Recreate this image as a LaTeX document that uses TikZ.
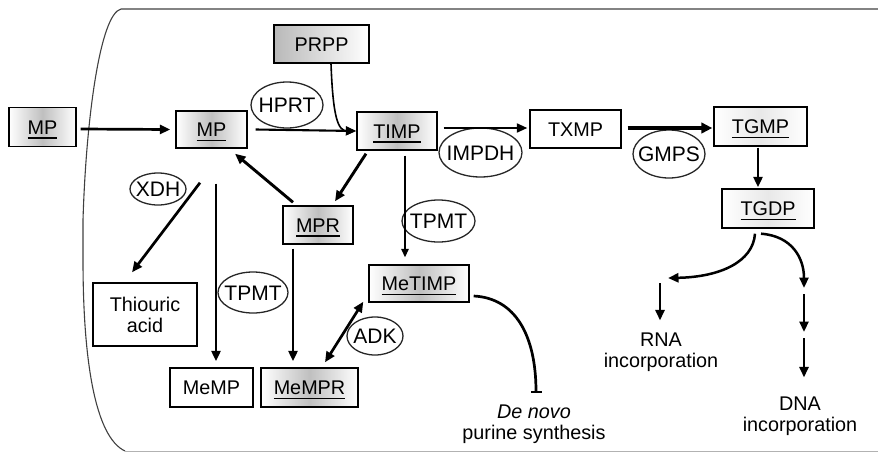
\documentclass[tikz,border=0pt]{standalone}
\usepackage{fontspec}
\setmainfont{Liberation Sans}
\usetikzlibrary{arrows.meta,calc}
\newcommand{\ulx}[1]{\setbox0\hbox{#1}\rlap{\rule[-4.6pt]{\wd0}{1.3pt}}\box0}
\begin{document}
\begin{tikzpicture}[x=1pt,y=-1pt,
  font=\fontsize{19.8}{21}\selectfont, text=black,
  bx/.style={draw=black, line width=1.4pt, inner sep=0pt, text height=14.2pt, text depth=0pt},
  bxt/.style={draw=black, line width=1.4pt, inner sep=0pt, align=center},
  shd/.style={bx, left color=white, right color=white, middle color=gray!50},
  shp/.style={bx, left color=gray!55, right color=white},
  shl/.style={bx, left color=white, right color=white, middle color=gray!18},
  enz/.style={inner sep=0pt, font=\fontsize{21}{22}\selectfont, text height=15pt, text depth=0pt},
  ell/.style={draw=black!85, line width=1.3pt},
  lbl/.style={align=center, inner sep=0pt},
  arr/.style={line width=#1, -{Triangle[length=10.5pt,width=9pt]}},
  arr/.default=2.5pt,
  arrs/.style={line width=#1, -{Triangle[length=8.5pt,width=7.5pt]}},
  arrs/.default=1.4pt,
  arrb/.style={line width=#1, -{Triangle[length=11pt,width=10.5pt]}},
  arrb/.default=4pt
]
\useasboundingbox (0,0) rectangle (878,453);

% cell outline
\draw[line width=1.1pt, black!75] (878,9) -- (121,9)
  .. controls (100,14) and (86,120) .. (83,220) -- (83,260)
  .. controls (83,360) and (95,437) .. (125,451);
\draw[line width=1pt, black!30] (125,451.5) -- (878,451.5);

% boxes
\node[shd, minimum width=67pt, minimum height=39pt] (mp0) at (42.5,127) {\ulx{MP}};
\node[shd, minimum width=71pt, minimum height=37pt] (mp1) at (211.5,129.5) {\ulx{MP}};
\node[shp, minimum width=95pt, minimum height=38pt] (prpp) at (321.5,44) {PRPP};
\node[shd, minimum width=80pt, minimum height=38pt] (timp) at (397,131) {\ulx{TIMP}};
\node[bx, fill=white, minimum width=91pt, minimum height=38pt] (txmp) at (575.5,129) {TXMP};
\node[shl, minimum width=93pt, minimum height=39pt] (tgmp) at (760.5,126.5) {\ulx{TGMP}};
\node[shl, minimum width=92pt, minimum height=39pt] (tgdp) at (768,208.5) {\ulx{TGDP}};
\node[shd, minimum width=70pt, minimum height=38pt] (mpr) at (318,225) {\ulx{MPR}};
\node[shd, minimum width=100pt, minimum height=37pt] (metimp) at (419,283.5) {\ulx{MeTIMP}};
\node[bxt, minimum width=104pt, minimum height=63pt] (thio) at (145,314.5) {Thiouric\\acid};
\node[bx, fill=white, minimum width=83pt, minimum height=39pt] (memp) at (211.5,387.5) {MeMP};
\node[shd, minimum width=97pt, minimum height=39pt] (mempr) at (309.5,387.5) {\ulx{MeMPR}};

% enzymes
\node[enz] (hprt) at (287,105) {HPRT};
\draw[ell] (hprt.center) ellipse [x radius=36, y radius=23];
\node[enz] (impdh) at (480.5,152.5) {IMPDH};
\draw[ell] (impdh.center) ellipse [x radius=41.5, y radius=24.5];
\node[enz] (gmps) at (669,154) {GMPS};
\draw[ell] (gmps.center) ellipse [x radius=36, y radius=24];
\node[enz] (xdh) at (158,189) {XDH};
\draw[ell] (xdh.center) ellipse [x radius=28, y radius=16];
\node[enz] (tpmta) at (253,292.5) {TPMT};
\draw[ell] (tpmta.center) ellipse [x radius=35, y radius=20.5];
\node[enz] (tpmtb) at (438.5,221) {TPMT};
\draw[ell] (tpmtb.center) ellipse [x radius=36.5, y radius=21];
\node[enz] (adk) at (375,336) {ADK};
\draw[ell] (adk.center) ellipse [x radius=28, y radius=19];

% labels
\node[lbl] (rna) at (661,352) {RNA\\incorporation};
\node[lbl] (dna) at (800,416) {DNA\\incorporation};
\node[lbl] (denovo) at (534,424) {\textit{De novo}\\purine synthesis};

% free coordinates
\coordinate (rnatip) at (668,278);
\coordinate (rnas) at (660,283);
\coordinate (dnaa) at (804,288);
\coordinate (dnab) at (804,294);
\coordinate (dnac) at (804,332);
\coordinate (dnad) at (804,338);

% connectors
\draw[arr=2.7pt] ($(mp0.east)+(4,2)$) -- ($(mp1.west)+(-5,0)$);
\draw[arr=2.1pt] ($(mp1.east)+(8,0)$) -- (timp.west);
\draw[arrs=1.6pt] ($(prpp.south)+(9.5,0)$) .. controls (333,118) and (338,131) .. ($(timp.west)+(-1,0)$);
\draw[arr=2.1pt] ($(timp.east)+(6,-3)$) -- ($(txmp.west)+(-2,-1)$);
\draw[arrb=4.2pt] ($(txmp.east)+(6,-1)$) -- ($(tgmp.west)+(-1,1.5)$);
\draw[arr=2.7pt] ($(tgmp.south)+(-2.5,1)$) -- ($(tgdp.north)+(-10,-1)$);
\draw[arr=2.5pt] ($(tgdp.south)+(-13,5)$) .. controls (753,262) and (720,277) .. (rnatip);
\draw[arr=2.5pt] (rnas) -- ($(rna.north)+(-1,-12)$);
\draw[arr=2.5pt] ($(tgdp.south)+(-7,5)$) .. controls (792,236) and (804,258) .. (dnaa);
\draw[arr=2.5pt] (dnab) -- (dnac);
\draw[arr=2.5pt] (dnad) -- ($(dna.north)+(4,-19)$);
\draw[arr=2.9pt] ($(timp.south)+(-31,3)$) -- ($(mpr.north)+(17,-4)$);
\draw[arr=2.9pt] ($(mpr.north)+(-25,-3)$) -- ($(mp1.south)+(23.5,5)$);
\draw[arrs=1.4pt] ($(timp.south)+(8,5)$) -- ($(metimp.north)+(-14,-7)$);
\draw[arr=2.7pt] ($(mp1.south)+(-11.5,34)$) -- ($(thio.north)+(-13,-10)$);
\draw[arr=2.7pt] ($(mp1.south)+(4.5,35)$) -- ($(memp.north)+(4.5,-6)$);
\draw[arr=2.7pt] ($(mpr.south)+(-25,4)$) -- ($(mempr.north)+(-16.5,-6)$);
\draw[line width=2.7pt, {Triangle[length=10.5pt,width=9pt]}-{Triangle[length=10.5pt,width=9pt]}]
  ($(mempr.north)+(15.5,-5)$) -- ($(metimp.south west)+(-5,-1)$);
\draw[line width=2.7pt, -{Bar[width=11pt]}] ($(metimp.east)+(4,12.5)$)
  .. controls (515,298) and (536,335) .. ($(denovo.north)+(2,-11)$);
\end{tikzpicture}
\end{document}
